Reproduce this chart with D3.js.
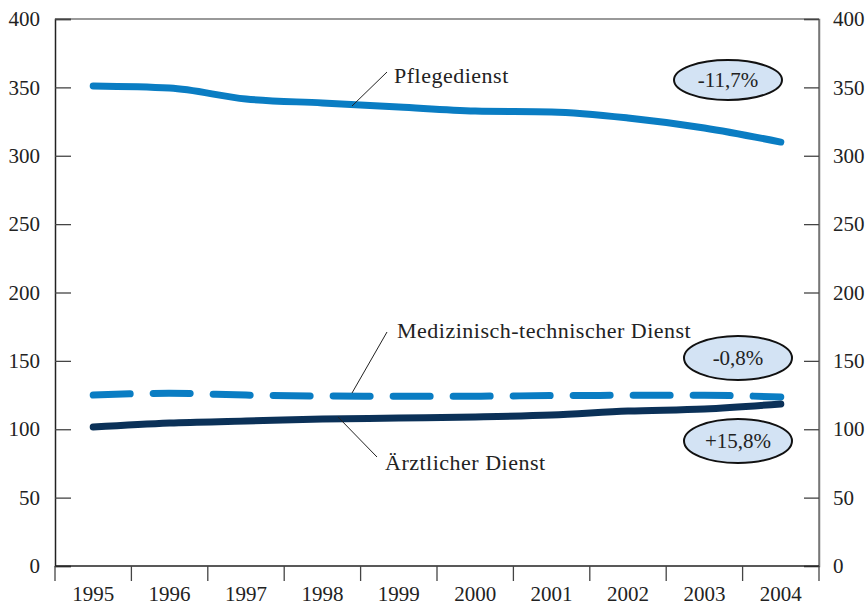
<!DOCTYPE html>
<html><head><meta charset="utf-8">
<script src="https://cdn.jsdelivr.net/npm/d3@7"></script>
<style>body{margin:0;background:#fff}svg{display:block}</style>
</head><body>
<svg id="c" width="867" height="607"></svg>
<script>
const years = ["1995","1996","1997","1998","1999","2000","2001","2002","2003","2004"];
const pflegedienst = [351, 349.5, 341.5, 338.6, 335.6, 332.7, 332, 327.6, 320.3, 310];
const medTech = [125, 126.3, 125, 124.3, 124.2, 124.2, 124.6, 124.8, 124.8, 123.6];
const aerztlich = [101.6, 104.6, 106, 107.5, 108.2, 109, 110.4, 113.3, 114.8, 118.5];
const yTicks = [0, 50, 100, 150, 200, 250, 300, 350, 400];
const seriesLabels = ["Pflegedienst", "Medizinisch-technischer Dienst", "Ärztlicher Dienst"];
const changeLabels = ["-11,7%", "-0,8%", "+15,8%"];

const svg = d3.select("#c");
const L = 55, R = 819, T = 19, B = 566;
const font = "'Liberation Serif','Times New Roman',serif";
const x = d3.scaleBand().domain(years).range([L, R]);
const y = d3.scaleLinear().domain([0, 400]).range([B, T]);
const cx = d => x(d) + x.bandwidth() / 2;

// frame
svg.append("line").attr("x1", L).attr("x2", R).attr("y1", T).attr("y2", T).attr("stroke", "#777").attr("stroke-width", 1.5);
svg.append("line").attr("x1", R).attr("x2", R).attr("y1", T).attr("y2", B).attr("stroke", "#777").attr("stroke-width", 1.5);

// left axis
const gl = svg.append("g").attr("transform", `translate(${L},0)`)
  .call(d3.axisLeft(y).tickValues(yTicks).tickSize(-16).tickPadding(15));
// right axis
const gr = svg.append("g").attr("transform", `translate(${R},0)`)
  .call(d3.axisRight(y).tickValues(yTicks).tickSize(-15).tickPadding(14));
[gl, gr].forEach(g => {
  g.select(".domain").attr("stroke", g === gl ? "#222" : "#777").attr("stroke-width", 1.5);
  g.selectAll(".tick line").attr("stroke", "#444").attr("stroke-width", 1.3);
  g.selectAll("text").attr("font-family", font).attr("font-size", 21).attr("fill", "#222");
});

// bottom axis
const gb = svg.append("g").attr("transform", `translate(0,${B})`)
  .call(d3.axisBottom(x).tickSize(0).tickPadding(0));
gb.select(".domain").remove();
gb.selectAll("text").attr("font-family", font).attr("font-size", 21).attr("fill", "#222").attr("dy", 0).attr("y", 35);
svg.append("line").attr("x1", L).attr("x2", R).attr("y1", B).attr("y2", B).attr("stroke", "#222").attr("stroke-width", 1.5);
const bounds = years.map(d => x(d)).concat([R]);
svg.selectAll(".xb").data(bounds).join("line")
  .attr("x1", d => d).attr("x2", d => d).attr("y1", B).attr("y2", B + 15)
  .attr("stroke", "#444").attr("stroke-width", 1.3);

// lines
const line = d3.line().x((d, i) => cx(years[i])).y(d => y(d)).curve(d3.curveMonotoneX);
svg.append("path").datum(pflegedienst).attr("d", line).attr("fill", "none")
  .attr("stroke", "#0a7dc3").attr("stroke-width", 7).attr("stroke-linecap", "round");
svg.append("path").datum(medTech).attr("d", line).attr("fill", "none")
  .attr("stroke", "#0a7dc3").attr("stroke-width", 7).attr("stroke-linecap", "round")
  .attr("stroke-dasharray", "37,23");
svg.append("path").datum(aerztlich).attr("d", line).attr("fill", "none")
  .attr("stroke", "#0b3158").attr("stroke-width", 7).attr("stroke-linecap", "round");

// leader lines and labels
const leaders = [
  {x1: 387, y1: 72, x2: 352, y2: 106},
  {x1: 387, y1: 332, x2: 352, y2: 393},
  {x1: 338, y1: 417, x2: 377, y2: 457}
];
svg.selectAll(".ld").data(leaders).join("line")
  .attr("x1", d => d.x1).attr("y1", d => d.y1).attr("x2", d => d.x2).attr("y2", d => d.y2)
  .attr("stroke", "#222").attr("stroke-width", 1);
const labelPos = [{x: 394, y: 83}, {x: 397, y: 338}, {x: 385, y: 470}];
svg.selectAll(".sl").data(seriesLabels).join("text")
  .attr("x", (d, i) => labelPos[i].x).attr("y", (d, i) => labelPos[i].y)
  .attr("font-family", font).attr("font-size", 22).attr("letter-spacing", 0.5)
  .attr("fill", "#222").text(d => d);

// ellipses
const ell = [{cx: 728, cy: 80, rx: 54, ry: 20}, {cx: 738, cy: 358, rx: 54, ry: 22}, {cx: 738, cy: 441, rx: 54, ry: 22}];
svg.selectAll(".el").data(ell).join("ellipse")
  .attr("cx", d => d.cx).attr("cy", d => d.cy).attr("rx", d => d.rx).attr("ry", d => d.ry)
  .attr("fill", "#d3e3f4").attr("stroke", "#111").attr("stroke-width", 2);
svg.selectAll(".et").data(changeLabels).join("text")
  .attr("x", (d, i) => ell[i].cx).attr("y", (d, i) => ell[i].cy + 7)
  .attr("text-anchor", "middle").attr("font-family", font).attr("font-size", 21).attr("fill", "#222").text(d => d);
</script>
</body></html>
